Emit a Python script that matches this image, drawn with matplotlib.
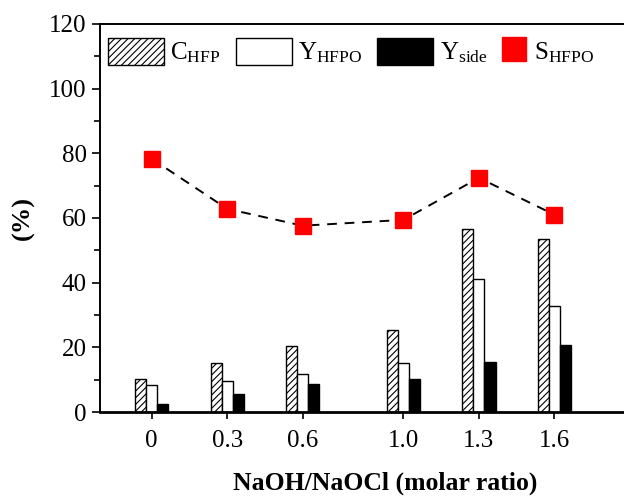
# NaOH/NaOCl ratio vs conversion, yields and selectivity

import numpy as np
import matplotlib
matplotlib.use('Agg')
import matplotlib.pyplot as plt
from matplotlib.patches import Patch
from matplotlib.lines import Line2D

# data
ratio = [0, 0.3, 0.6, 1.0, 1.3, 1.6]
ratio_labels = ['0', '0.3', '0.6', '1.0', '1.3', '1.6']
c_hfp = [10.3, 15.0, 20.3, 25.4, 56.6, 53.6]
y_hfpo = [8.2, 9.5, 11.9, 15.0, 41.1, 32.8]
y_side = [2.4, 5.7, 8.8, 10.3, 15.6, 20.8]
s_hfpo = [78.3, 62.8, 57.6, 59.4, 72.4, 61.0]

plt.rcParams['font.family'] = 'Liberation Serif'
plt.rcParams['mathtext.fontset'] = 'custom'
plt.rcParams['mathtext.rm'] = 'Liberation Serif'
plt.rcParams['hatch.linewidth'] = 0.8

fig = plt.figure(figsize=(6.24, 4.97), dpi=100)
# axes runs past the right edge like the cropped original
ax = fig.add_axes([0.160, 0.171, 1.074 - 0.160, 0.952 - 0.171])

x = np.array(ratio)
w = 0.044
ax.bar(x - w, c_hfp, w, color='white', edgecolor='black', hatch='/////', linewidth=1.0)
ax.bar(x, y_hfpo, w, color='white', edgecolor='black', linewidth=1.0)
ax.bar(x + w, y_side, w, color='black', edgecolor='black', linewidth=1.0)
ax.plot(x, s_hfpo, color='black', linestyle=(0, (5, 4)), linewidth=1.4, zorder=3)
ax.plot(x, s_hfpo, linestyle='none', marker='s', markersize=11, color='red', zorder=4)

ax.set_xlim(-0.206, 2.06)
ax.set_ylim(0, 120)
ax.set_xticks(ratio)
ax.set_xticklabels(ratio_labels)
ax.set_yticks(np.arange(0, 121, 20))
ax.set_yticks(np.arange(10, 120, 20), minor=True)
ax.tick_params(axis='both', direction='out', labelsize=18, width=1.2)
ax.tick_params(axis='y', which='major', length=6)
ax.tick_params(axis='y', which='minor', length=4, width=1.2)
ax.tick_params(axis='x', length=5, pad=8)
for s in ax.spines.values():
    s.set_linewidth(1.4)
ax.spines['bottom'].set_linewidth(2)

ax.set_xlabel('NaOH/NaOCl (molar ratio)', fontsize=18.5, fontweight='bold', labelpad=14)
ax.set_ylabel('(%)', fontsize=19, fontweight='bold', labelpad=10)

# bar entries
bar_handles = [
    Patch(facecolor='white', edgecolor='black', hatch='/////', linewidth=1.0),
    Patch(facecolor='white', edgecolor='black', linewidth=1.0),
    Patch(facecolor='black', edgecolor='black', linewidth=1.0),
]
bar_labels = [r'$\mathregular{C_{HFP}}$', r'$\mathregular{Y_{HFPO}}$',
              r'$\mathregular{Y_{side}}$']
leg1 = ax.legend(bar_handles, bar_labels, loc='upper left', bbox_to_anchor=(0.014, 0.963),
                 ncol=3, frameon=False, fontsize=18, handlelength=2.24, handleheight=1.25,
                 handletextpad=0.26, columnspacing=0.6, borderpad=0, borderaxespad=0)
ax.add_artist(leg1)

# selectivity entry, narrower handle
sel_handle = Line2D([], [], linestyle='none', marker='s', markersize=17, color='red')
ax.legend([sel_handle], [r'$\mathregular{S_{HFPO}}$'], loc='upper left',
          bbox_to_anchor=(0.7035, 0.963), frameon=False, fontsize=18,
          handlelength=1.0, handleheight=1.25, handletextpad=0.32,
          borderpad=0, borderaxespad=0)

fig.savefig('out.png', dpi=100)
